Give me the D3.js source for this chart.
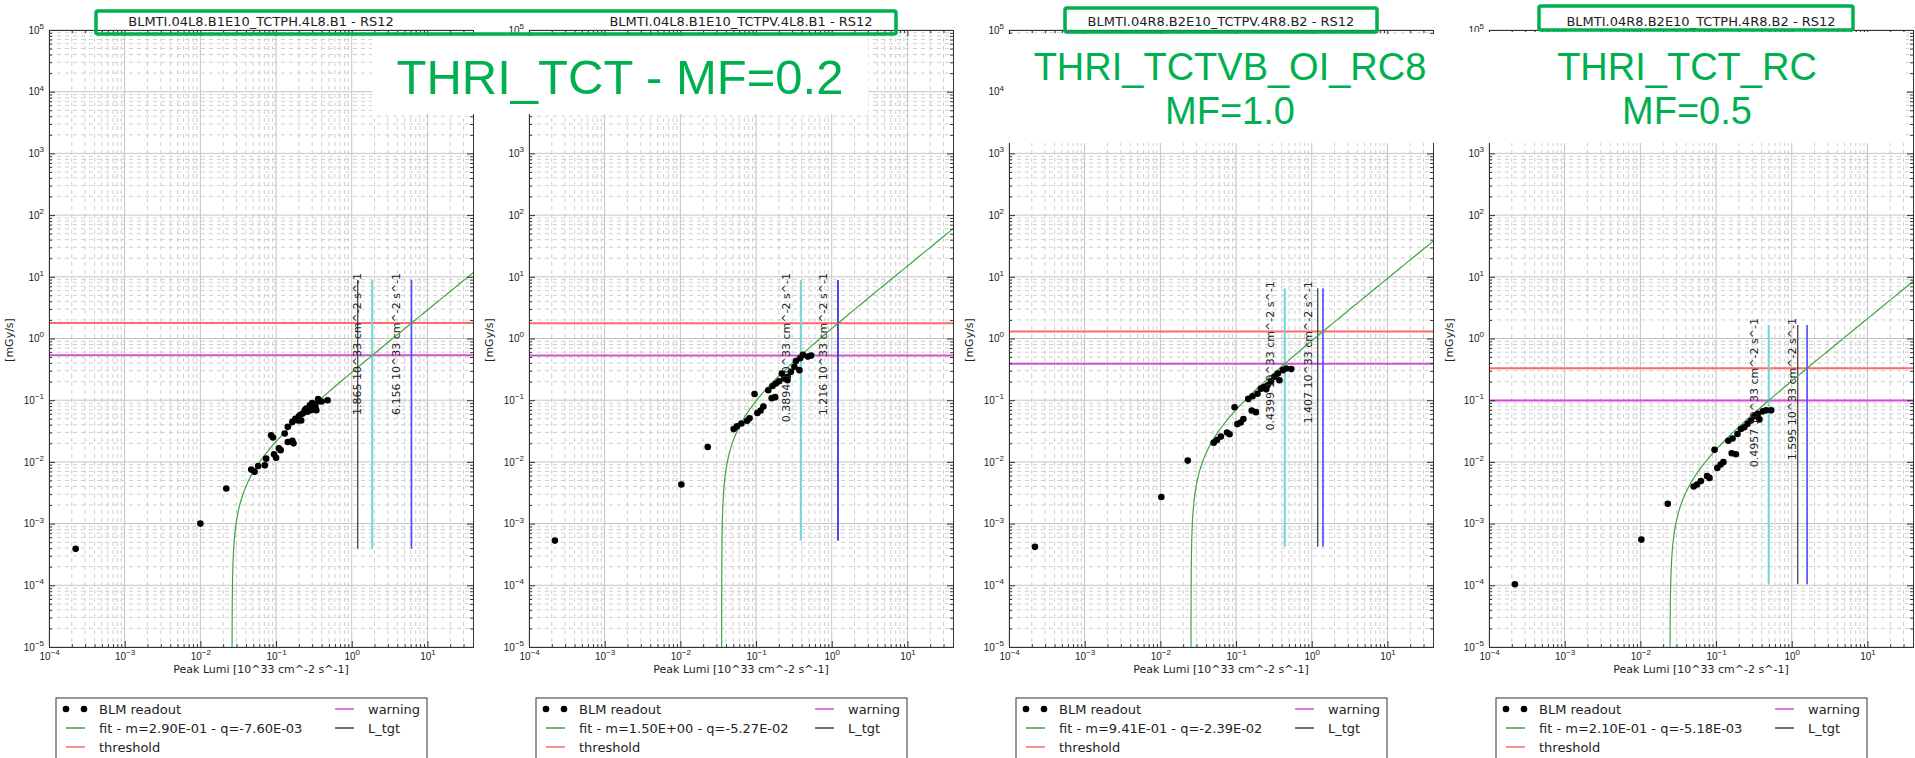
<!DOCTYPE html>
<html>
<head>
<meta charset="utf-8">
<script src="https://cdn.jsdelivr.net/npm/d3@7"></script>
<style>
body { margin: 0; background: #fff; }
svg { display: block; font-family: "DejaVu Sans", sans-serif; }
</style>
</head>
<body>
<div id="chart"></div>
<script>
// ---- data ----
var panelTitles = ["BLMTI.04L8.B1E10_TCTPH.4L8.B1 - RS12", "BLMTI.04L8.B1E10_TCTPV.4L8.B1 - RS12",
                   "BLMTI.04R8.B2E10_TCTPV.4R8.B2 - RS12", "BLMTI.04R8.B2E10_TCTPH.4R8.B2 - RS12"];
var fitM = [0.290, 1.50, 0.941, 0.210];
var fitQ = [-7.60e-3, -5.27e-2, -2.39e-2, -5.18e-3];
var fitLabels = ["fit - m=2.90E-01 - q=-7.60E-03", "fit - m=1.50E+00 - q=-5.27E-02",
                 "fit - m=9.41E-01 - q=-2.39E-02", "fit - m=2.10E-01 - q=-5.18E-03"];
var thresholdDose = [1.78, 1.77, 1.30, 0.330];
var warningDose = [0.533, 0.531, 0.390, 0.099];
var warningLumi = ["1.865", "0.3894", "0.4399", "0.4957"];
var thresholdLumi = ["6.156", "1.216", "1.407", "1.595"];
var targetLumi = [1.2, 1.2, 1.2, 1.2];

var blmLumi1 = [2.25e-4, 0.0100, 0.022, 0.047, 0.052, 0.058, 0.071, 0.074, 0.086, 0.091, 0.094, 0.100, 0.109, 0.115,
                0.130, 0.143, 0.164, 0.170, 0.143, 0.164, 0.196, 0.200, 0.215, 0.225, 0.240, 0.250, 0.280, 0.300,
                0.290, 0.320, 0.340, 0.360, 0.370, 0.400, 0.480, 0.180, 0.260, 0.330, 0.210];
var blmDose1 = [3.9e-4, 1.0e-3, 0.0037, 0.0075, 0.0069, 0.0086, 0.0088, 0.0113, 0.027, 0.0248, 0.0133, 0.0117, 0.0166, 0.0155,
                0.0288, 0.021, 0.0219, 0.020, 0.037, 0.0445, 0.047, 0.055, 0.047, 0.061, 0.069, 0.073, 0.083, 0.090,
                0.069, 0.086, 0.069, 0.104, 0.096, 0.095, 0.100, 0.050, 0.065, 0.080, 0.058];
var blmLumi2 = [2.2e-4, 0.0103, 0.023, 0.0506, 0.056, 0.064, 0.076, 0.082, 0.0955, 0.104, 0.115, 0.125, 0.145, 0.161,
                0.179, 0.165, 0.183, 0.202, 0.219, 0.236, 0.261, 0.289, 0.321, 0.337, 0.374, 0.382, 0.415, 0.483, 0.535, 0.26];
var blmDose2 = [5.3e-4, 0.0043, 0.0174, 0.034, 0.0376, 0.042, 0.0465, 0.0508, 0.126, 0.062, 0.068, 0.079, 0.145, 0.108,
                0.112, 0.17, 0.186, 0.203, 0.27, 0.224, 0.239, 0.288, 0.349, 0.432, 0.307, 0.478, 0.542, 0.509, 0.528, 0.21];
var blmLumi3 = [2.2e-4, 0.0103, 0.023, 0.0506, 0.056, 0.063, 0.076, 0.082, 0.0955, 0.104, 0.115, 0.125, 0.145, 0.161,
                0.183, 0.165, 0.192, 0.213, 0.236, 0.261, 0.289, 0.321, 0.374, 0.356, 0.415, 0.459, 0.535, 0.25];
var blmDose3 = [4.2e-4, 0.0027, 0.0105, 0.0205, 0.0227, 0.0257, 0.0299, 0.028, 0.077, 0.041, 0.0436, 0.0495, 0.105, 0.068,
                0.064, 0.116, 0.127, 0.154, 0.164, 0.174, 0.203, 0.239, 0.211, 0.27, 0.307, 0.327, 0.319, 0.15];
var blmLumi4 = [2.2e-4, 0.0103, 0.023, 0.0506, 0.056, 0.063, 0.076, 0.082, 0.0955, 0.104, 0.115, 0.125, 0.145, 0.161,
                0.183, 0.165, 0.192, 0.213, 0.236, 0.261, 0.289, 0.321, 0.374, 0.356, 0.415, 0.459, 0.535];
var blmDose4 = [1.04e-4, 5.5e-4, 0.0021, 0.0040, 0.0043, 0.0049, 0.0059, 0.0055, 0.0157, 0.0080, 0.0091, 0.0099, 0.022, 0.0138,
                0.0133, 0.024, 0.0284, 0.0342, 0.0365, 0.0414, 0.0468, 0.055, 0.0488, 0.060, 0.066, 0.0685, 0.0685];

var lumiDomain = [1e-4, 40];
var doseDomain = [1e-5, 1e5];
var xTickExp = [-4, -3, -2, -1, 0, 1];
var yTickExp = [-5, -4, -3, -2, -1, 0, 1, 2, 3, 4, 5];

var blmLumi = [blmLumi1, blmLumi2, blmLumi3, blmLumi4];
var blmDose = [blmDose1, blmDose2, blmDose3, blmDose4];

// ---- drawing ----
var green = "#00b050";
// white patches of the slide that sit over the plots
var covers = [[372, 36, 496, 78], [1005, 34, 457, 109], [1466, 32, 440, 111]];
var svg = d3.select("#chart").append("svg").attr("width", 1915).attr("height", 758);

function minorValues(domain) {
    var out = [];
    for (var e = Math.floor(Math.log10(domain[0])); e <= Math.ceil(Math.log10(domain[1])); e++) {
        for (var m = 2; m <= 9; m++) {
            var v = m * Math.pow(10, e);
            if (v > domain[0] && v < domain[1]) out.push(v);
        }
    }
    return out;
}

function covered(px, py) {
    return covers.some(function (r) {
        return px > r[0] && px < r[0] + r[2] && py > r[1] && py < r[1] + r[3];
    });
}

function supLabel(sel, pos) {
    sel.selectAll(".tick text").each(function (d) {
        var p = pos(d);
        if (covered(p[0], p[1])) { d3.select(this).remove(); return; }
        var e = Math.round(Math.log10(d));
        var t = d3.select(this).text("10");
        t.append("tspan").attr("font-size", "8px").attr("dy", "-0.6em")
            .text(e < 0 ? "\u2212" + (-e) : e);
    });
}

function drawPanel(i) {
    var left = 49 + 480 * i, right = left + 424, top = 30, bottom = 647;
    var x = d3.scaleLog().domain(lumiDomain).range([left, right]);
    var y = d3.scaleLog().domain(doseDomain).range([bottom, top]);
    var g = svg.append("g");

    g.append("clipPath").attr("id", "clip" + i).append("rect")
        .attr("x", left).attr("y", top).attr("width", right - left).attr("height", bottom - top);

    var xMinor = minorValues(lumiDomain), yMinor = minorValues(doseDomain);
    var xMajor = xTickExp.map(function (e) { return Math.pow(10, e); });
    var yMajor = yTickExp.map(function (e) { return Math.pow(10, e); });

    // grid
    var grid = g.append("g");
    grid.selectAll(".vmin").data(xMinor).enter().append("line")
        .attr("x1", x).attr("x2", x).attr("y1", top).attr("y2", bottom)
        .attr("stroke", "#cfcfcf").attr("stroke-dasharray", "4,4");
    grid.selectAll(".hmin").data(yMinor).enter().append("line")
        .attr("y1", y).attr("y2", y).attr("x1", left).attr("x2", right)
        .attr("stroke", "#cfcfcf").attr("stroke-dasharray", "4,4");
    grid.selectAll(".vmaj").data(xMajor).enter().append("line")
        .attr("x1", x).attr("x2", x).attr("y1", top).attr("y2", bottom)
        .attr("stroke", "#c4c4c4");
    grid.selectAll(".hmaj").data(yMajor).enter().append("line")
        .attr("y1", y).attr("y2", y).attr("x1", left).attr("x2", right)
        .attr("stroke", "#c4c4c4");

    var plot = g.append("g").attr("clip-path", "url(#clip" + i + ")");

    // threshold / warning
    plot.append("line").attr("x1", left).attr("x2", right)
        .attr("y1", y(thresholdDose[i])).attr("y2", y(thresholdDose[i]))
        .attr("stroke", "#ff6a6a").attr("stroke-width", 2);
    plot.append("line").attr("x1", left).attr("x2", right)
        .attr("y1", y(warningDose[i])).attr("y2", y(warningDose[i]))
        .attr("stroke", "#d24fd8").attr("stroke-width", 2);

    // vertical markers
    var lo = d3.min(blmDose[i]), hi = thresholdDose[i] * 5;
    var vlines = [[targetLumi[i], "#333", 1.2], [+warningLumi[i], "#6fd6d6", 2], [+thresholdLumi[i], "#4a4aff", 1.6]];
    vlines.forEach(function (v) {
        plot.append("line").attr("x1", x(v[0])).attr("x2", x(v[0]))
            .attr("y1", y(hi)).attr("y2", y(lo))
            .attr("stroke", v[1]).attr("stroke-width", v[2]);
    });
    [warningLumi[i], thresholdLumi[i]].forEach(function (s) {
        var px = x(+s) - 11, py = y(hi) - 7;
        g.append("text").attr("transform", "translate(" + px + "," + py + ") rotate(-90)")
            .attr("text-anchor", "end").attr("font-size", "11px").attr("fill", "#222")
            .text(s + " 10^33 cm^-2 s^-1");
    });

    // fit curve  y = m (x - x0)
    var x0 = -fitQ[i] / fitM[i];
    var pts = d3.range(-7, Math.log10(lumiDomain[1]) + 0.02, 0.02).map(function (t) {
        var dx = Math.pow(10, t);
        return [x0 + dx, fitM[i] * dx];
    });
    plot.append("path").datum(pts)
        .attr("d", d3.line().x(function (d) { return x(d[0]); }).y(function (d) { return y(d[1]); }))
        .attr("fill", "none").attr("stroke", "#3fa53f").attr("stroke-width", 1.2);

    // BLM readout
    plot.selectAll(".dot").data(d3.zip(blmLumi[i], blmDose[i])).enter().append("circle")
        .attr("cx", function (d) { return x(d[0]); })
        .attr("cy", function (d) { return y(d[1]); })
        .attr("r", 3.3).attr("fill", "#000");

    // axes, ticks inside on all sides
    var ax = g.append("g").style("color", "#333").attr("font-size", "11px").attr("font-family", "DejaVu Sans");
    ax.append("g").attr("transform", "translate(0," + bottom + ")")
        .call(d3.axisBottom(x).tickValues(xMinor).tickSize(-3).tickSizeOuter(0).tickFormat(""));
    ax.append("g").attr("transform", "translate(0," + top + ")")
        .call(d3.axisTop(x).tickValues(xMinor).tickSize(-3).tickSizeOuter(0).tickFormat(""));
    ax.append("g").attr("transform", "translate(" + left + ",0)")
        .call(d3.axisLeft(y).tickValues(yMinor).tickSize(-3).tickSizeOuter(0).tickFormat(""));
    ax.append("g").attr("transform", "translate(" + right + ",0)")
        .call(d3.axisRight(y).tickValues(yMinor).tickSize(-3).tickSizeOuter(0).tickFormat(""));
    ax.append("g").attr("transform", "translate(0," + top + ")")
        .call(d3.axisTop(x).tickValues(xMajor).tickSize(-6).tickSizeOuter(0).tickFormat(""));
    ax.append("g").attr("transform", "translate(" + right + ",0)")
        .call(d3.axisRight(y).tickValues(yMajor).tickSize(-6).tickSizeOuter(0).tickFormat(""));
    var xb = ax.append("g").attr("transform", "translate(0," + bottom + ")")
        .call(d3.axisBottom(x).tickValues(xMajor).tickSize(-6).tickSizeOuter(0).tickPadding(6));
    var yl = ax.append("g").attr("transform", "translate(" + left + ",0)")
        .call(d3.axisLeft(y).tickValues(yMajor).tickSize(-6).tickSizeOuter(0).tickPadding(5));
    supLabel(xb, function (d) { return [x(d), bottom + 10]; });
    supLabel(yl, function (d) { return [left - 12, y(d)]; });
    ax.selectAll(".tick text").attr("fill", "#222");

    // labels
    g.append("text").attr("x", (left + right) / 2).attr("y", 673).attr("text-anchor", "middle")
        .attr("font-size", "11px").attr("fill", "#222").text("Peak Lumi [10^33 cm^-2 s^-1]");
    g.append("text").attr("transform", "translate(" + (left - 36) + ",340) rotate(-90)")
        .attr("text-anchor", "middle").attr("font-size", "11px").attr("fill", "#222").text("[mGy/s]");
    g.append("text").attr("x", (left + right) / 2).attr("y", 26).attr("text-anchor", "middle")
        .attr("font-size", "13px").attr("fill", "#222").text(panelTitles[i]);

    // legend
    var lx = left + 7, ly = 698;
    var lg = g.append("g");
    lg.append("rect").attr("x", lx).attr("y", ly).attr("width", 371).attr("height", 80)
        .attr("fill", "#fff").attr("stroke", "#333");
    var rows = [11, 30, 49];
    lg.selectAll("circle").data([lx + 10, lx + 28]).enter().append("circle")
        .attr("cx", function (d) { return d; }).attr("cy", ly + rows[0]).attr("r", 3.3).attr("fill", "#000");
    var entries = [
        [lx + 10, ly + rows[1], "#3fa53f", fitLabels[i]],
        [lx + 10, ly + rows[2], "#ff6a6a", "threshold"],
        [lx + 279, ly + rows[0], "#d24fd8", "warning"],
        [lx + 279, ly + rows[1], "#444", "L_tgt"]
    ];
    entries.forEach(function (e) {
        lg.append("line").attr("x1", e[0]).attr("x2", e[0] + 19).attr("y1", e[1]).attr("y2", e[1])
            .attr("stroke", e[2]).attr("stroke-width", 1.5);
        lg.append("text").attr("x", e[0] + 33).attr("y", e[1]).attr("dy", "0.36em")
            .attr("font-size", "13px").attr("fill", "#222").text(e[3]);
    });
    lg.append("text").attr("x", lx + 43).attr("y", ly + rows[0]).attr("dy", "0.36em")
        .attr("font-size", "13px").attr("fill", "#222").text("BLM readout");
}

for (var i = 0; i < 4; i++) drawPanel(i);

// slide annotations pasted on top
var notes = svg.append("g").attr("font-family", "'Liberation Sans', Arial, sans-serif").attr("fill", green);
covers.forEach(function (r) {
    notes.append("rect").attr("x", r[0]).attr("y", r[1]).attr("width", r[2]).attr("height", r[3]).attr("fill", "#fff");
});
notes.append("text").attr("x", 620).attr("y", 94).attr("text-anchor", "middle").attr("font-size", "49px").text("THRI_TCT - MF=0.2");
notes.append("text").attr("x", 1230).attr("y", 80).attr("text-anchor", "middle").attr("font-size", "38px").text("THRI_TCTVB_OI_RC8");
notes.append("text").attr("x", 1230).attr("y", 124).attr("text-anchor", "middle").attr("font-size", "38px").text("MF=1.0");
notes.append("text").attr("x", 1687).attr("y", 80).attr("text-anchor", "middle").attr("font-size", "38px").text("THRI_TCT_RC");
notes.append("text").attr("x", 1687).attr("y", 124).attr("text-anchor", "middle").attr("font-size", "38px").text("MF=0.5");
[[96, 11, 800, 23], [1065, 8, 312, 24], [1539, 6, 314, 24]].forEach(function (r) {
    notes.append("rect").attr("x", r[0]).attr("y", r[1]).attr("width", r[2]).attr("height", r[3]).attr("rx", 2)
        .attr("fill", "none").attr("stroke", green).attr("stroke-width", 3.5);
});
</script>
</body>
</html>
